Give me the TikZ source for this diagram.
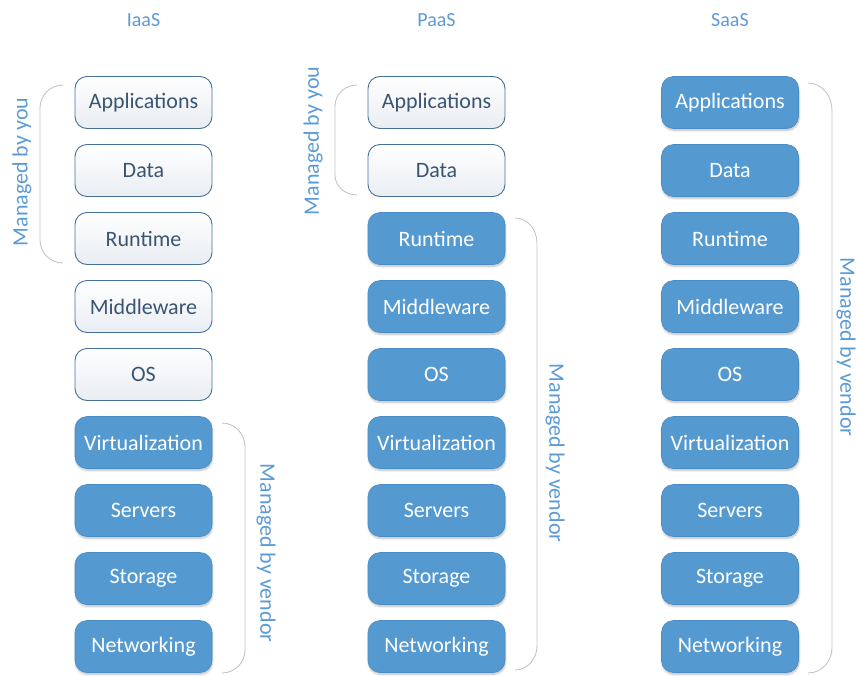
\documentclass[tikz,border=0pt]{standalone}
\usepackage{fontspec}
\setmainfont{Carlito}
\usetikzlibrary{shadows.blur}
\definecolor{tierblue}{HTML}{5499D0}
\definecolor{tierblueedge}{HTML}{4A8CC6}
\definecolor{tieredge}{HTML}{45719A}
\definecolor{tiertext}{HTML}{3A5574}
\definecolor{tiershade}{HTML}{E9EDF2}
\definecolor{labelblue}{HTML}{5B9BD5}
\definecolor{bracegray}{HTML}{C4C4C4}
\tikzset{
  tier/.style={rounded corners=12pt, minimum width=137pt, minimum height=52pt,
    inner sep=0pt, font=\fontsize{22}{26}\selectfont},
  mine/.style={tier, draw=tieredge, line width=0.9pt, text=tiertext,
    top color=white, bottom color=tiershade},
  theirs/.style={tier, draw=tierblueedge, line width=0.6pt, fill=tierblue, text=white,
    blur shadow={shadow xshift=0.5pt, shadow yshift=-2pt, shadow blur steps=6, shadow opacity=25}},
  header/.style={text=labelblue, font=\fontsize{20}{24}\selectfont},
  sidelabel/.style={text=labelblue, font=\fontsize{22}{26}\selectfont},
  bracket/.style={draw=bracegray, line width=0.9pt},
}
\begin{document}
\begin{tikzpicture}[x=1pt, y=-1pt]
\useasboundingbox (0,0) rectangle (857,675);

% column headers
\node[header] (hI) at (143.5,20) {IaaS};
\node[header] (hP) at (436.5,20) {PaaS};
\node[header] (hS) at (730,20) {SaaS};

% IaaS stack
\node[mine]   (i1) at (143.5,102.5) {Applications};
\node[mine]   (i2) at (143.5,170.5) {Data};
\node[mine]   (i3) at (143.5,238.5) {Runtime};
\node[mine]   (i4) at (143.5,306.5) {Middleware};
\node[mine]   (i5) at (143.5,374.5) {OS};
\node[theirs] (i6) at (143.5,442.5) {Virtualization};
\node[theirs] (i7) at (143.5,510.5) {Servers};
\node[theirs] (i8) at (143.5,578.5) {Storage};
\node[theirs] (i9) at (143.5,646.5) {Networking};

% PaaS stack
\node[mine]   (p1) at (436.5,102.5) {Applications};
\node[mine]   (p2) at (436.5,170.5) {Data};
\node[theirs] (p3) at (436.5,238.5) {Runtime};
\node[theirs] (p4) at (436.5,306.5) {Middleware};
\node[theirs] (p5) at (436.5,374.5) {OS};
\node[theirs] (p6) at (436.5,442.5) {Virtualization};
\node[theirs] (p7) at (436.5,510.5) {Servers};
\node[theirs] (p8) at (436.5,578.5) {Storage};
\node[theirs] (p9) at (436.5,646.5) {Networking};

% SaaS stack
\node[theirs] (s1) at (730,102.5) {Applications};
\node[theirs] (s2) at (730,170.5) {Data};
\node[theirs] (s3) at (730,238.5) {Runtime};
\node[theirs] (s4) at (730,306.5) {Middleware};
\node[theirs] (s5) at (730,374.5) {OS};
\node[theirs] (s6) at (730,442.5) {Virtualization};
\node[theirs] (s7) at (730,510.5) {Servers};
\node[theirs] (s8) at (730,578.5) {Storage};
\node[theirs] (s9) at (730,646.5) {Networking};

% brackets
\draw[bracket] (63,85) to[out=180,in=90] (40,108) -- (40,240) to[out=-90,in=180] (63,263);
\draw[bracket] (222,423) to[out=0,in=90] (245,447) -- (245,650) to[out=-90,in=0] (222,673);
\draw[bracket] (357,85) to[out=180,in=90] (335,106) -- (335,175) to[out=-90,in=180] (357,195);
\draw[bracket] (515,218) to[out=0,in=90] (537,243) -- (537,646) to[out=-90,in=0] (515,670);
\draw[bracket] (808,83) to[out=0,in=90] (832,110) -- (832,648) to[out=-90,in=0] (808,673);

% bracket labels
\node[sidelabel, rotate=90]  (lIy) at (22,172)  {Managed by you};
\node[sidelabel, rotate=90]  (lPy) at (313,141) {Managed by you};
\node[sidelabel, rotate=-90] (lIv) at (266,553) {Managed by vendor};
\node[sidelabel, rotate=-90] (lPv) at (555,453) {Managed by vendor};
\node[sidelabel, rotate=-90] (lSv) at (846,347) {Managed by vendor};
\end{tikzpicture}
\end{document}
